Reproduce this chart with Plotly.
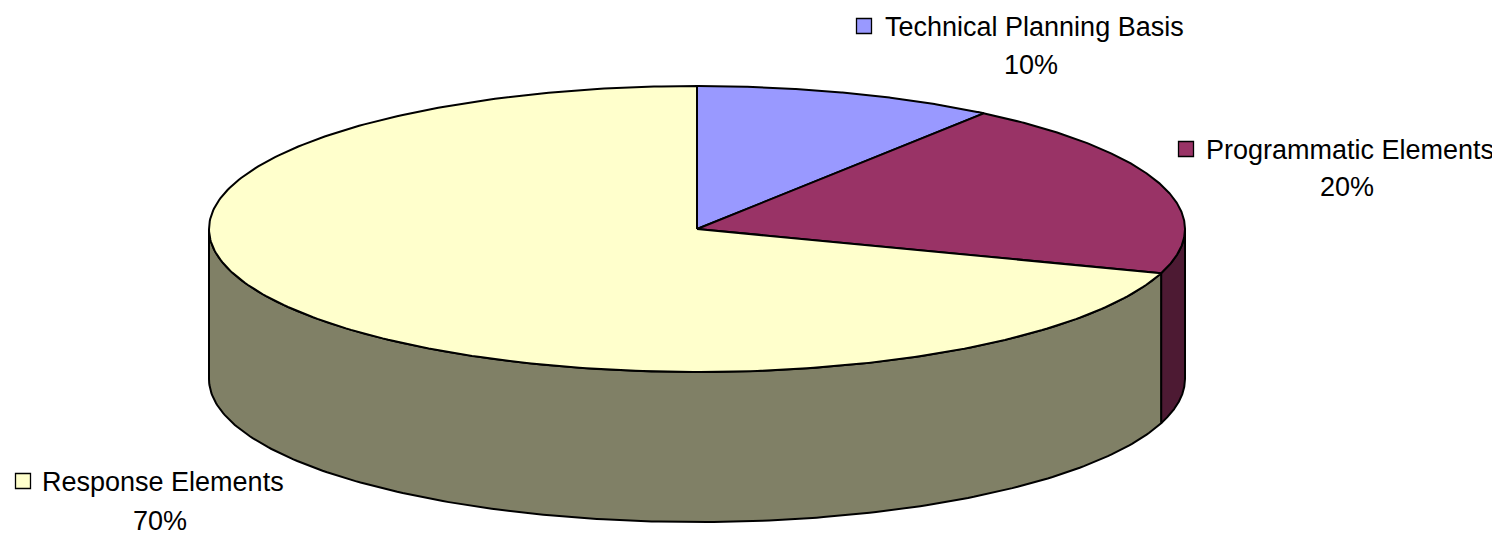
import numpy as np
import plotly.graph_objects as go

# ---- data ----
categories = ["Technical Planning Basis", "Programmatic Elements", "Response Elements"]
values = [10, 20, 70]
pct_labels = ["10%", "20%", "70%"]

# ---- style ----
top_colors = ["#9999FF", "#993366", "#FFFFCC"]
side_colors = ["#4C4C80", "#4D1A33", "#808066"]
W, H = 1500, 542
OFF = 8  # page body margin offset
CX, CY, RX, RY, DEPTH = 697, 229, 488, 143, 150
# label layout: (square x, square y, text x, pct x, pct y)
label_pos = [
    (864, 26, 883, 1031, 64),
    (1186, 149, 1204, 1347, 186),
    (23, 481, 40, 160, 520),
]
FONT = "Liberation Sans, Arial, sans-serif"
FSIZE = 27

total = float(sum(values))
angles = []
start = 90.0
for v in values:
    end = start - 360.0 * v / total
    angles.append((start, end))
    start = end


def ell(t_deg, dy=0.0):
    t = np.radians(t_deg)
    return CX + RX * np.cos(t), CY - RY * np.sin(t) + dy


fig = go.Figure()

# side faces (front half only)
for i, (a0, a1) in enumerate(angles):
    lo, hi = min(a0, a1), max(a0, a1)
    for f0, f1 in [(-180.0, 0.0), (180.0, 360.0)]:
        s, e = max(lo, f0), min(hi, f1)
        if e - s > 1e-6:
            ts = np.linspace(s, e, 200)
            xt, yt = ell(ts)
            xb, yb = ell(ts[::-1], DEPTH)
            xs = np.concatenate([xt, xb, xt[:1]])
            ys = np.concatenate([yt, yb, yt[:1]])
            fig.add_trace(go.Scatter(
                x=xs, y=ys, mode="lines", fill="toself",
                fillcolor=side_colors[i],
                line=dict(color="black", width=2),
                hoverinfo="skip", showlegend=False))

# top faces
for i, (a0, a1) in enumerate(angles):
    ts = np.linspace(a0, a1, 300)
    xa, ya = ell(ts)
    xs = np.concatenate([[CX], xa, [CX]])
    ys = np.concatenate([[CY], ya, [CY]])
    fig.add_trace(go.Scatter(
        x=xs, y=ys, mode="lines", fill="toself",
        fillcolor=top_colors[i],
        line=dict(color="black", width=2),
        hoverinfo="skip", showlegend=False, name=categories[i]))

# labels
for i, cat in enumerate(categories):
    sx, sy, tx, px, py = label_pos[i]
    fig.add_trace(go.Scatter(
        x=[sx], y=[sy], mode="markers",
        marker=dict(symbol="square", size=15, color=top_colors[i],
                    line=dict(color="black", width=1.3)),
        hoverinfo="skip", showlegend=False))
    fig.add_annotation(x=tx, y=sy + 1, text=cat, showarrow=False,
                       xanchor="left", yanchor="middle",
                       font=dict(family=FONT, size=FSIZE, color="black"))
    fig.add_annotation(x=px, y=py + 1, text=pct_labels[i], showarrow=False,
                       xanchor="center", yanchor="middle",
                       font=dict(family=FONT, size=FSIZE, color="black"))

fig.update_layout(
    width=W, height=H, autosize=False,
    margin=dict(l=0, r=0, t=0, b=0),
    paper_bgcolor="white", plot_bgcolor="white",
    xaxis=dict(range=[OFF, W + OFF], visible=False, fixedrange=True),
    yaxis=dict(range=[H + OFF, OFF], visible=False, fixedrange=True),
    showlegend=False,
)

fig.write_html("out.html")
